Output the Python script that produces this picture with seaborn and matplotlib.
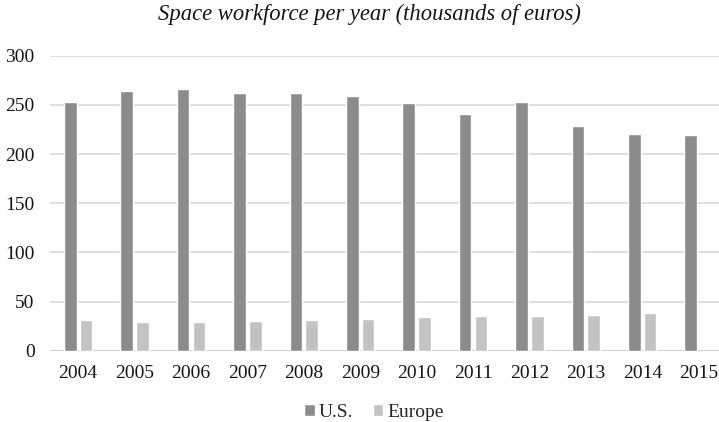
import numpy as np
import pandas as pd
import seaborn as sns
from matplotlib import pyplot as plt

years = ["2004", "2005", "2006", "2007", "2008", "2009", "2010", "2011", "2012", "2013", "2014", "2015"]
us = [253, 264, 266, 262, 262, 259, 252, 241, 253, 228, 220, 219]
europe = [31, 29, 29, 30, 31, 32, 34, 35, 35, 36, 38, np.nan]
y_ticks = [0, 50, 100, 150, 200, 250, 300]

sns.set_theme(style="white")
plt.rcParams["font.family"] = ["Liberation Serif", "DejaVu Serif"]

table = pd.DataFrame({"Year": years, "U.S.": us, "Europe": europe})
long_table = table.melt(id_vars="Year", var_name="Region", value_name="Workforce")

fig = plt.figure(figsize=(7.19, 4.22), dpi=100)
ax = fig.add_axes([0.0695, 0.169, 0.9305, 0.699])

sns.barplot(data=long_table, x="Year", y="Workforce", hue="Region",
            palette={"U.S.": "#8c8c8c", "Europe": "#c3c3c3"},
            width=0.56, gap=0.2, ax=ax, zorder=3)

ax.set_ylim(0, 300)
ax.set_yticks(y_ticks)
ax.set_xlim(-0.5, 11.36)
ax.yaxis.grid(True, color="#d9d9d9", linewidth=1.2, zorder=0)
ax.set_axisbelow(True)
for side in ["top", "right", "left", "bottom"]:
    ax.spines[side].set_visible(False)
ax.axhline(0, color="#d0d0d0", linewidth=1.5, zorder=1)
ax.tick_params(axis="both", length=0, labelsize=14, colors="#151515")
ax.tick_params(axis="y", pad=11)
ax.tick_params(axis="x", pad=10)
ax.set_xlabel("")
ax.set_ylabel("")

ax.legend(loc="center", bbox_to_anchor=(0.52, 0.022), bbox_transform=fig.transFigure,
          ncol=2, frameon=False, fontsize=14, handlelength=0.55, handleheight=0.55,
          handletextpad=0.2, columnspacing=1.0)

fig.suptitle("Space workforce per year (thousands of euros)", x=0.514, y=0.99,
             fontsize=16.3, style="italic", color="#151515")

fig.savefig("out.png", dpi=100)
